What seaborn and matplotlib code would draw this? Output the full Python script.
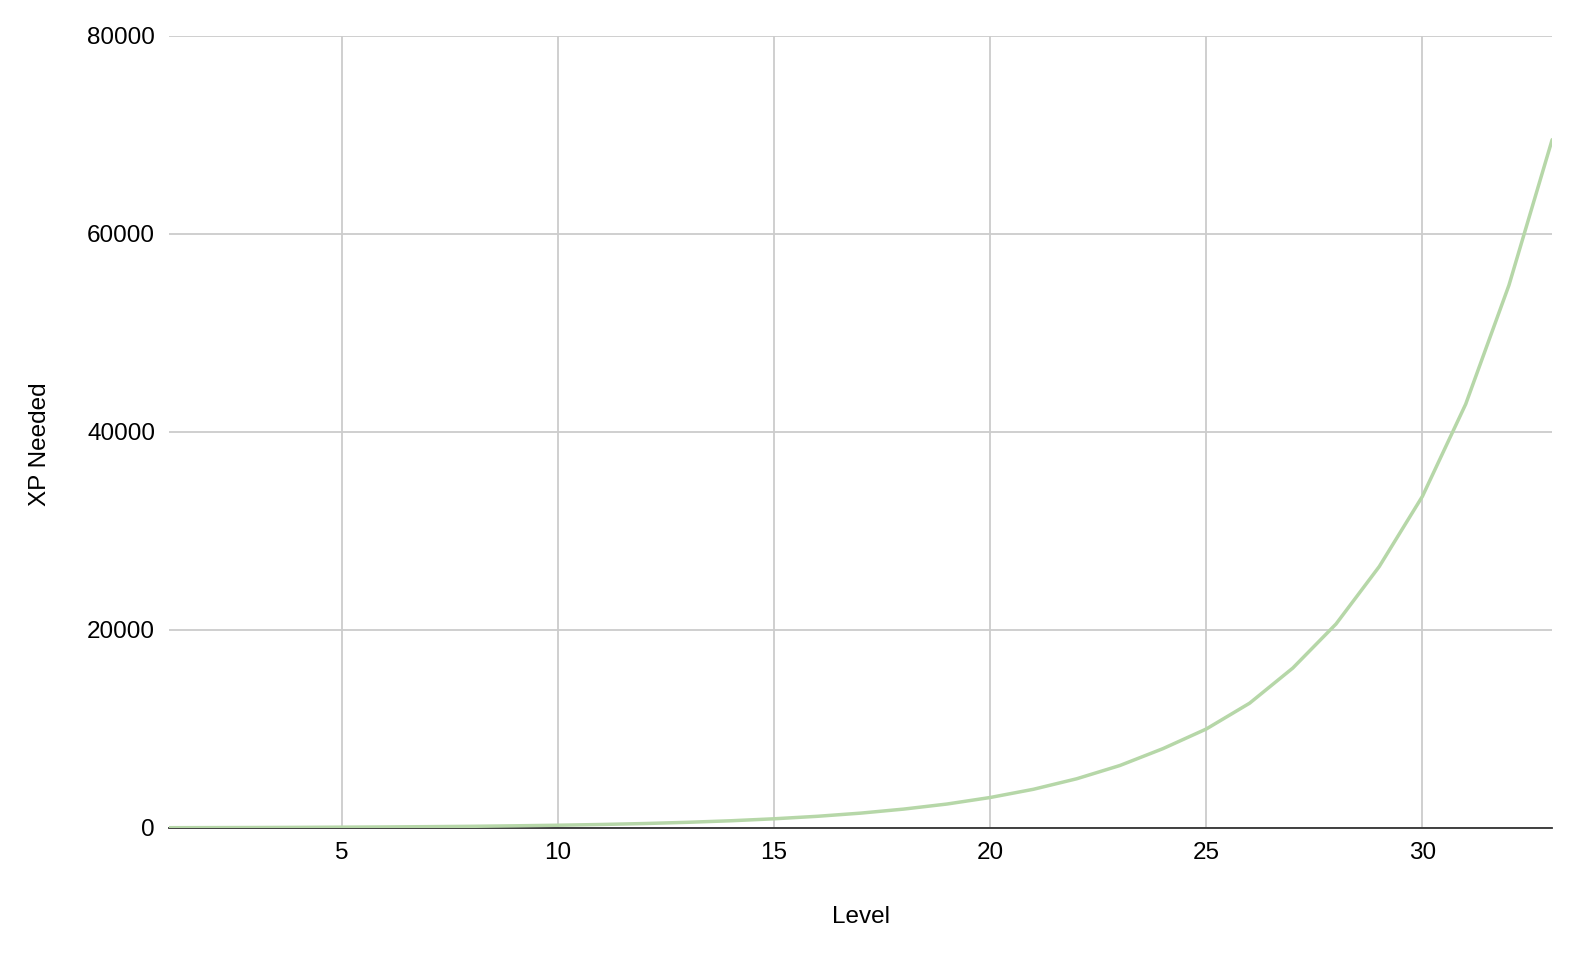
import matplotlib
matplotlib.use("Agg")
import matplotlib.pyplot as plt
import pandas as pd
import seaborn as sns

# Valores
levels = list(range(1, 34))
xp_needed = [30, 40, 50, 65, 85, 105, 135, 170, 220, 280,
             355, 450, 575, 730, 930, 1180, 1500, 1910, 2420, 3080,
             3910, 4970, 6310, 8020, 10000, 12600, 16150, 20600, 26400, 33500,
             42800, 54800, 69500]
x_ticks = [5, 10, 15, 20, 25, 30]
y_ticks = [0, 20000, 40000, 60000, 80000]

sns.set_theme(style="whitegrid")
plt.rcParams['font.family'] = ['Liberation Sans', 'DejaVu Sans']

df = pd.DataFrame({'Level': levels, 'XP Needed': xp_needed})

fig, ax = plt.subplots(figsize=(15.79, 9.57), dpi=100)
fig.subplots_adjust(left=0.107, right=0.983, top=0.9627, bottom=0.1348)

sns.lineplot(data=df, x='Level', y='XP Needed', color='#b6d7a8', linewidth=2.5, ax=ax, zorder=3)

ax.set_xlim(1, 33)
ax.set_ylim(0, 80000)
ax.set_xticks(x_ticks)
ax.set_yticks(y_ticks)
ax.set_xticklabels([str(t) for t in x_ticks])
ax.set_yticklabels([str(t) for t in y_ticks])

ax.grid(True, color='#cccccc', linewidth=1.3)
for side in ['left', 'right', 'top']:
    ax.spines[side].set_visible(False)
ax.spines['bottom'].set_color('#333333')
ax.spines['bottom'].set_linewidth(1.3)
ax.spines['bottom'].set_zorder(2)

ax.tick_params(axis='both', length=0, labelsize=17.5, colors='#000000')
ax.tick_params(axis='x', pad=10)
ax.tick_params(axis='y', pad=10)

ax.set_xlabel('Level', fontsize=17.5, color='#000000')
ax.set_ylabel('XP Needed', fontsize=17.5, color='#000000')
ax.xaxis.set_label_coords(0.5, -0.099)
ax.yaxis.set_label_coords(-0.085, 0.485)

fig.savefig('out.png', dpi=100)
plt.close(fig)
